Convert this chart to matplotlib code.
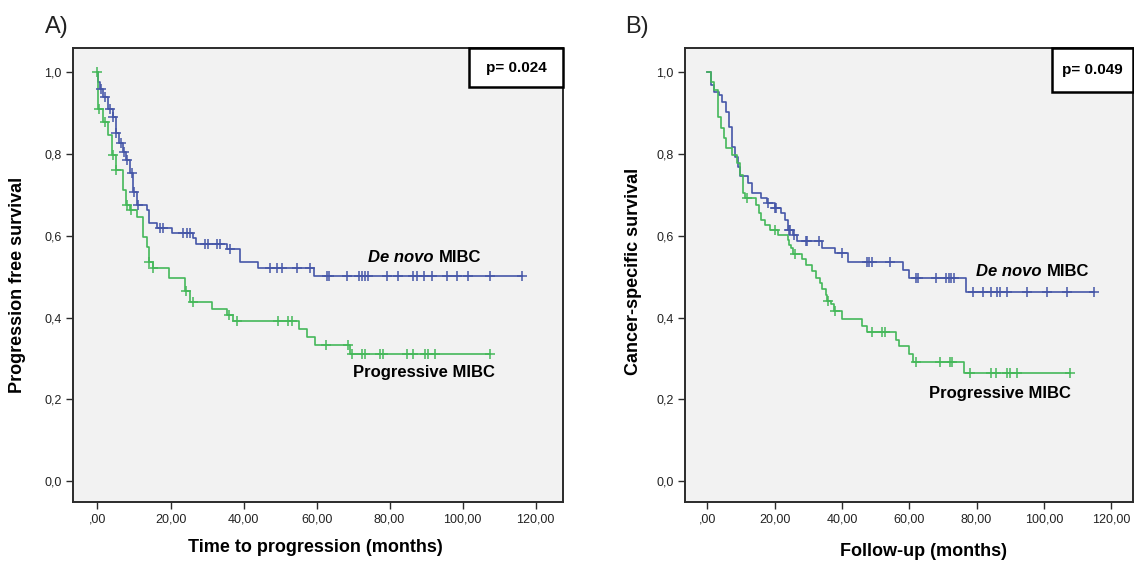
import numpy as np
import matplotlib
matplotlib.use("Agg")
import matplotlib.pyplot as plt
from matplotlib.patches import Rectangle
from matplotlib.ticker import FuncFormatter

plt.rcParams["font.family"] = ["Liberation Sans", "DejaVu Sans"]

# Panel A: progression free survival (step times in months, survival after step)
pfs_denovo_t = [0, 0.1, 0.7, 1.6, 2.96, 4.2, 5.1, 6.0, 6.9, 7.8, 8.9, 9.8, 10.7, 13.5, 14.2,
                16.2, 20.3, 26.1, 27.0, 35.4, 38.9, 44.0, 59.4]
pfs_denovo_s = [1.0, 0.976, 0.960, 0.940, 0.911, 0.891, 0.850, 0.826, 0.805, 0.785, 0.753,
                0.707, 0.675, 0.663, 0.631, 0.618, 0.606, 0.594, 0.580, 0.568, 0.536, 0.520, 0.501]
pfs_denovo_cens = [0.96, 2.1, 3.4, 4.3, 5.2, 6.35, 7.3, 8.0, 9.4, 10.0, 11.2, 17.1, 18.0, 23.5,
                   24.4, 25.3, 29.4, 30.4, 32.7, 33.6, 36.3, 47.3, 49.1, 50.5, 54.6, 58.2, 62.8,
                   63.3, 68.3, 71.5, 72.4, 73.3, 74.2, 79.2, 82.4, 86.5, 87.5, 89.3, 91.6, 95.7,
                   98.4, 101.6, 107.5, 116.2]

pfs_prog_t = [0, 0.1, 0.2, 1.6, 2.96, 3.9, 5.0, 7.1, 7.8, 8.9, 10.7, 12.5, 13.5, 14.2, 15.1,
              19.7, 24.0, 25.3, 31.3, 35.4, 37.2, 55.3, 57.3, 59.6, 69.2]
pfs_prog_s = [1.0, 0.940, 0.911, 0.878, 0.846, 0.797, 0.760, 0.711, 0.675, 0.663, 0.646, 0.597,
              0.573, 0.536, 0.522, 0.496, 0.465, 0.438, 0.420, 0.406, 0.391, 0.373, 0.353, 0.333,
              0.310]
pfs_prog_cens = [0, 0.5, 2.1, 4.2, 5.1, 8.0, 9.1, 14.2, 15.2, 24.2, 26.1, 36.1, 38.3, 49.4, 52.3,
                 53.2, 62.6, 68.5, 69.6, 72.4, 73.3, 77.4, 78.3, 84.7, 86.5, 89.7, 90.6, 92.5,
                 107.5]

# Panel B: cancer-specific survival
css_denovo_t = [0, 1.1, 1.9, 3.3, 4.3, 5.6, 6.5, 7.2, 8.2, 9.2, 9.7, 12.1, 13.1, 16.0, 17.6,
                20.0, 21.9, 22.9, 23.8, 25.3, 26.5, 34.1, 38.0, 41.9, 58.1, 60.0, 76.9]
css_denovo_s = [1.0, 0.968, 0.952, 0.944, 0.928, 0.903, 0.867, 0.818, 0.793, 0.769, 0.745,
                0.728, 0.704, 0.692, 0.680, 0.667, 0.655, 0.639, 0.615, 0.602, 0.586, 0.570,
                0.558, 0.537, 0.517, 0.497, 0.462]
css_denovo_cens = [18.0, 20.2, 20.5, 24.1, 24.6, 25.8, 29.2, 29.7, 33.1, 40.0, 47.3, 48.0, 48.8,
                   54.2, 62.0, 62.7, 67.8, 71.0, 71.7, 72.4, 73.2, 78.9, 82.0, 84.2, 86.1, 86.9,
                   89.1, 95.0, 100.9, 107.0, 114.8]

css_prog_t = [0, 1.1, 1.9, 3.0, 4.1, 4.8, 5.6, 7.2, 8.7, 9.7, 10.6, 11.1, 14.5, 15.3, 16.0, 17.0,
              18.5, 20.9, 23.8, 24.3, 24.8, 25.5, 28.2, 29.2, 31.2, 32.2, 33.6, 34.1, 35.1, 35.6,
              36.6, 37.5, 40.0, 46.0, 47.3, 56.1, 57.0, 60.0, 61.0, 76.2]
css_prog_s = [1.0, 0.976, 0.956, 0.891, 0.863, 0.838, 0.814, 0.798, 0.777, 0.749, 0.704, 0.692,
              0.676, 0.655, 0.639, 0.627, 0.615, 0.602, 0.590, 0.578, 0.571, 0.556, 0.543, 0.529,
              0.513, 0.497, 0.485, 0.470, 0.456, 0.440, 0.432, 0.415, 0.397, 0.380, 0.364, 0.346,
              0.330, 0.310, 0.292, 0.265]
css_prog_cens = [11.7, 20.2, 26.1, 35.9, 38.0, 49.0, 52.0, 52.9, 62.0, 69.1, 72.0, 72.7, 77.9,
                 84.2, 85.9, 89.1, 89.8, 92.0, 107.9]

x_ticks = [0, 20, 40, 60, 80, 100, 120]
y_ticks = [0.0, 0.2, 0.4, 0.6, 0.8, 1.0]

BLUE = "#4657a8"
GREEN = "#45b85a"
FACE = "#f2f2f2"
EDGE = "#2b2b2b"


def draw_km(ax, times, surv, cens, color):
    """Step curve plus censoring crosses, extended to the last censored time."""
    times = np.asarray(times, dtype=float)
    surv = np.asarray(surv, dtype=float)
    cens = np.asarray(cens, dtype=float)
    end = max(times[-1], cens.max())
    ax.step(np.append(times, end), np.append(surv, surv[-1]), where="post",
            color=color, lw=1.2, zorder=3)
    idx = np.searchsorted(times, cens, side="right") - 1
    ax.plot(cens, surv[idx], ls="none", marker="+", ms=7, mew=1.1,
            color=color, zorder=4)


def fmt_x(v, pos):
    s = f"{v:.2f}".replace(".", ",")
    return s[1:] if s.startswith("0,") else s


def fmt_y(v, pos):
    return f"{v:.1f}".replace(".", ",")


def style_axes(ax, pbox_x0, pbox_y0, ptext):
    ax.set_facecolor(FACE)
    ax.set_xlim(-6.7, 127.5)
    ax.set_ylim(-0.051, 1.059)
    ax.set_xticks(x_ticks)
    ax.set_yticks(y_ticks)
    ax.xaxis.set_major_formatter(FuncFormatter(fmt_x))
    ax.yaxis.set_major_formatter(FuncFormatter(fmt_y))
    ax.tick_params(direction="out", length=5, width=1, color=EDGE,
                   labelsize=9, labelcolor="#222222", pad=3)
    for sp in ax.spines.values():
        sp.set_color(EDGE)
        sp.set_linewidth(1.4)
    ax.add_patch(Rectangle((pbox_x0, pbox_y0), 1 - pbox_x0, 1 - pbox_y0,
                           transform=ax.transAxes, facecolor="white",
                           edgecolor="black", lw=1.8, zorder=5, clip_on=False))
    ax.text((1 + pbox_x0) / 2, (1 + pbox_y0) / 2, ptext, transform=ax.transAxes,
            ha="center", va="center", fontsize=11, fontweight="bold", zorder=6)


def group_labels(ax, split_x, denovo_y, prog_x, prog_y):
    ax.annotate("De novo", (split_x, denovo_y), xytext=(-2, 0), textcoords="offset points",
                ha="right", va="center", fontsize=12, fontweight="bold", style="italic")
    ax.annotate("MIBC", (split_x, denovo_y), xytext=(2, 0), textcoords="offset points",
                ha="left", va="center", fontsize=12, fontweight="bold")
    ax.text(prog_x, prog_y, "Progressive MIBC", ha="center", va="center",
            fontsize=12, fontweight="bold")


fig = plt.figure(figsize=(11.34, 5.61), dpi=100)
ax_a = fig.add_axes([0.0644, 0.1052, 0.4321, 0.8092])
ax_b = fig.add_axes([0.6040, 0.1052, 0.3951, 0.8092])

draw_km(ax_a, pfs_denovo_t, pfs_denovo_s, pfs_denovo_cens, BLUE)
draw_km(ax_a, pfs_prog_t, pfs_prog_s, pfs_prog_cens, GREEN)
style_axes(ax_a, 0.808, 0.914, "p= 0.024")
group_labels(ax_a, 92.7, 0.548, 89.4, 0.265)

draw_km(ax_b, css_denovo_t, css_denovo_s, css_denovo_cens, BLUE)
draw_km(ax_b, css_prog_t, css_prog_s, css_prog_cens, GREEN)
style_axes(ax_b, 0.819, 0.903, "p= 0.049")
ax_b.set_xlim(-6.7, 126.5)
group_labels(ax_b, 100.0, 0.513, 86.8, 0.215)

# panel letters and axis titles
fig.text(45 / 1134, 1 - 33 / 561, "A)", fontsize=17, color="#222222", va="baseline")
fig.text(625 / 1134, 1 - 33 / 561, "B)", fontsize=17, color="#222222", va="baseline")
fig.text(315 / 1134, 1 - 547 / 561, "Time to progression (months)", ha="center", va="center",
         fontsize=13, fontweight="bold")
fig.text(924 / 1134, 1 - 551 / 561, "Follow-up (months)", ha="center", va="center",
         fontsize=13, fontweight="bold")
fig.text(18 / 1134, 1 - 285 / 561, "Progression free survival", ha="center", va="center",
         rotation=90, fontsize=13, fontweight="bold")
fig.text(634 / 1134, 1 - 271 / 561, "Cancer-specific survival", ha="center", va="center",
         rotation=90, fontsize=13, fontweight="bold")

fig.savefig("out.png", dpi=100, facecolor="white")
